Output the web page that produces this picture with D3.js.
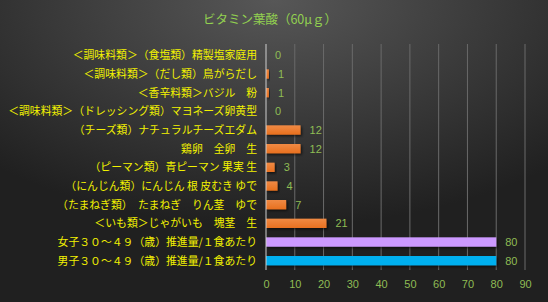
<!DOCTYPE html>
<html>
<head>
<meta charset="utf-8">
<script src="https://cdn.jsdelivr.net/npm/d3@7"></script>
<style>
  body { margin: 0; background: #222; }
  svg { display: block; font-family: "Noto Sans CJK JP", sans-serif; }
</style>
</head>
<body>
<div id="container"></div>
<script>
// Data (top to bottom)
const categories = [
  '＜調味料類＞（食塩類）精製塩家庭用',
  '＜調味料類＞（だし類）鳥がらだし',
  '＜香辛料類＞バジル　粉',
  '＜調味料類＞（ドレッシング類）マヨネーズ卵黄型',
  '（チーズ類）ナチュラルチーズエダム',
  '鶏卵　全卵　生',
  '（ピーマン類）青ピーマン 果実 生',
  '（にんじん類）にんじん 根 皮むき ゆで',
  '（たまねぎ類）　たまねぎ　りん茎　ゆで',
  '＜いも類＞じゃがいも　塊茎　生',
  '女子３０～４９（歳）推進量/１食あたり',
  '男子３０～４９（歳）推進量/１食あたり'
];
const values = [0, 1, 1, 0, 12, 12, 3, 4, 7, 21, 80, 80];
const barColors = ['o', 'o', 'o', 'o', 'o', 'o', 'o', 'o', 'o', 'o', 'lilac', 'blue'];
const ticks = [0, 10, 20, 30, 40, 50, 60, 70, 80, 90];

const width = 548, height = 302;
const margin = { top: 46, right: 23, bottom: 30, left: 266 };

const svg = d3.select('#container').append('svg')
  .attr('width', width)
  .attr('height', height);

const defs = svg.append('defs');

// background gradient
const bg = defs.append('radialGradient')
  .attr('id', 'bg')
  .attr('cx', '50%').attr('cy', '0%').attr('r', '75%');
bg.append('stop').attr('offset', '0%').attr('stop-color', '#575757');
bg.append('stop').attr('offset', '100%').attr('stop-color', '#202020');

const og = defs.append('linearGradient')
  .attr('id', 'orange').attr('x1', 0).attr('y1', 0).attr('x2', 0).attr('y2', 1);
og.append('stop').attr('offset', '0%').attr('stop-color', '#f08a44');
og.append('stop').attr('offset', '100%').attr('stop-color', '#e8701f');

const shadow = defs.append('filter').attr('id', 'shadow')
  .attr('x', '-10%').attr('y', '-30%').attr('width', '130%').attr('height', '180%');
shadow.append('feDropShadow')
  .attr('dx', 1.5).attr('dy', 1.5).attr('stdDeviation', 1)
  .attr('flood-color', '#000').attr('flood-opacity', 0.6);

svg.append('rect')
  .attr('width', width).attr('height', height)
  .attr('fill', 'url(#bg)');

const x = d3.scaleLinear()
  .domain([0, 90])
  .range([margin.left, width - margin.right]);

const y = d3.scaleBand()
  .domain(categories)
  .range([margin.top, height - margin.bottom - 2])
  .paddingInner(0.5)
  .paddingOuter(0.25);

// gridlines
svg.append('g')
  .selectAll('line')
  .data(ticks.slice(1))
  .enter().append('line')
  .attr('x1', d => x(d)).attr('x2', d => x(d))
  .attr('y1', margin.top - 2).attr('y2', height - margin.bottom - 2)
  .attr('stroke', '#6a6a6a')
  .attr('stroke-width', 1);

// x axis labels
const xAxis = d3.axisBottom(x).tickValues(ticks).tickSize(0).tickPadding(0);
const gx = svg.append('g')
  .attr('transform', `translate(0,${height - 22})`)
  .call(xAxis);
gx.select('.domain').remove();
gx.selectAll('text')
  .attr('fill', '#8fbc54')
  .attr('font-size', 11)
  .attr('font-family', 'Liberation Sans, sans-serif');

// bars
const colorMap = { o: 'url(#orange)', lilac: '#cc99ff', blue: '#00b0f0' };
svg.append('g')
  .selectAll('rect')
  .data(values)
  .enter().append('rect')
  .attr('x', x(0))
  .attr('y', (d, i) => y(categories[i]))
  .attr('width', d => x(d) - x(0))
  .attr('height', y.bandwidth())
  .attr('fill', (d, i) => colorMap[barColors[i]])
  .attr('filter', 'url(#shadow)');

// value labels
svg.append('g')
  .selectAll('text')
  .data(values)
  .enter().append('text')
  .attr('x', d => x(d) + 9)
  .attr('y', (d, i) => y(categories[i]) + y.bandwidth() / 2)
  .attr('dy', '0.36em')
  .attr('fill', '#8fbc54')
  .attr('font-size', 11)
  .attr('font-family', 'Liberation Sans, sans-serif')
  .text(d => d);

// y axis line
svg.append('line')
  .attr('x1', x(0)).attr('x2', x(0))
  .attr('y1', margin.top - 2).attr('y2', height - margin.bottom - 2)
  .attr('stroke', '#cfcfcf')
  .attr('stroke-width', 1);

// category labels
svg.append('g')
  .selectAll('text')
  .data(categories)
  .enter().append('text')
  .attr('x', x(0) - 9)
  .attr('y', d => y(d) + y.bandwidth() / 2)
  .attr('dy', '0.36em')
  .attr('text-anchor', 'end')
  .attr('fill', '#f2f200')
  .attr('font-size', 10.85)
  .text(d => d);

// title
svg.append('text')
  .attr('x', 270)
  .attr('y', 24)
  .attr('text-anchor', 'middle')
  .attr('fill', '#92d050')
  .attr('font-size', 12.5)
  .text('ビタミン葉酸（60μｇ）');
</script>
</body>
</html>
